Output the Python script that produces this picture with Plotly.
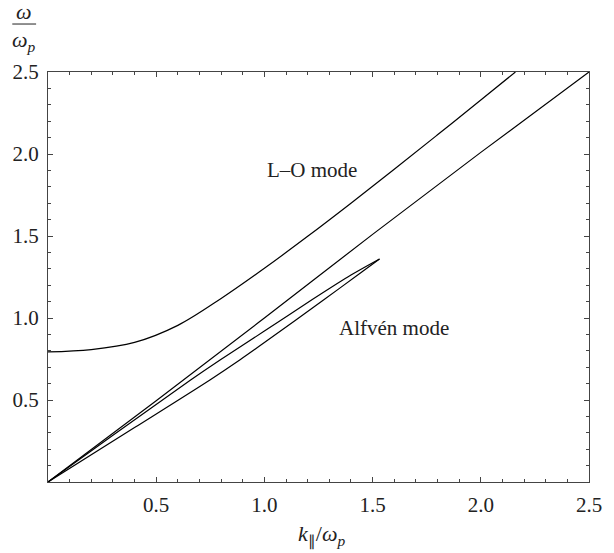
import plotly.graph_objects as go

# L-O mode branch
lo_k = [0, 0.2, 0.4, 0.6, 0.8, 1.0, 1.2, 1.4, 1.6, 1.8, 2.0, 2.16]
lo_w = [0.793, 0.807, 0.851, 0.955, 1.119, 1.303, 1.498, 1.70, 1.907, 2.117, 2.329, 2.5]

# light-line-like branch (omega ~ k)
ll_k = [0, 0.5, 1.0, 1.5, 2.0, 2.5]
ll_w = [0, 0.495, 1.0, 1.51, 2.01, 2.5]

# Alfven loop: upper branch out to the tip, lower branch back to origin
alf_up_k = [0, 0.3, 0.659, 0.795, 1.0, 1.223, 1.4, 1.532]
alf_up_w = [0, 0.285, 0.622, 0.744, 0.92, 1.114, 1.262, 1.36]
alf_lo_k = [1.532, 1.45, 1.273, 1.0, 0.886, 0.75, 0.4, 0]
alf_lo_w = [1.36, 1.28, 1.11, 0.85, 0.744, 0.624, 0.332, 0]

tick_vals = [0.5, 1.0, 1.5, 2.0, 2.5]
tick_text = ["0.5", "1.0", "1.5", "2.0", "2.5"]

FONT = "'Liberation Serif', serif"
TXT = "#222"
line_style = dict(color="black", width=1.2)

fig = go.Figure()
fig.add_trace(go.Scatter(x=lo_k, y=lo_w, mode="lines", line=dict(shape="spline", **line_style)))
fig.add_trace(go.Scatter(x=ll_k, y=ll_w, mode="lines", line=dict(shape="spline", **line_style)))
fig.add_trace(go.Scatter(x=alf_up_k, y=alf_up_w, mode="lines",
                         line=dict(shape="spline", smoothing=0.8, **line_style)))
fig.add_trace(go.Scatter(x=alf_lo_k, y=alf_lo_w, mode="lines",
                         line=dict(shape="spline", smoothing=0.8, **line_style)))

axis_common = dict(
    range=[0, 2.5], tickvals=tick_vals, ticktext=tick_text,
    ticks="inside", ticklen=5, tickwidth=1, tickcolor="#444",
    minor=dict(dtick=0.1, ticks="inside", ticklen=3, tickcolor="#444", tickwidth=1),
    showline=True, linecolor="#444", linewidth=1, mirror="allticks",
    showgrid=False, zeroline=False,
    tickfont=dict(family=FONT, size=21, color=TXT),
)
fig.update_xaxes(**axis_common, ticklabelstandoff=4)
fig.update_yaxes(**axis_common, ticklabelstandoff=4)

fig.add_annotation(x=1.22, y=1.902, text="L\u2013O mode", showarrow=False,
                   xanchor="center", yanchor="middle",
                   font=dict(family=FONT, size=21, color=TXT))
fig.add_annotation(x=1.60, y=0.939, text="Alfvén mode", showarrow=False,
                   xanchor="center", yanchor="middle",
                   font=dict(family=FONT, size=21, color=TXT))

# y-axis label as fraction omega / omega_p
fig.add_annotation(xref="paper", yref="paper", x=-0.044, y=1.147, text="<i>ω</i>",
                   xanchor="center", yanchor="middle",
                   showarrow=False, font=dict(family=FONT, size=22, color=TXT))
fig.add_annotation(xref="paper", yref="paper", x=-0.044, y=1.075, text="<i>ω<sub>p</sub></i>",
                   xanchor="center", yanchor="middle",
                   showarrow=False, font=dict(family=FONT, size=22, color=TXT))
fig.add_shape(type="line", xref="paper", yref="paper", x0=-0.066, x1=-0.022, y0=1.117, y1=1.117,
              line=dict(color=TXT, width=1))

# x-axis label
fig.add_annotation(xref="paper", yref="paper", x=0.505, y=-0.13,
                   xanchor="center", yanchor="middle",
                   text="<i>k</i><sub>∥</sub>/<i>ω<sub>p</sub></i>",
                   showarrow=False, font=dict(family=FONT, size=22, color=TXT))

fig.update_layout(
    width=614, height=553, showlegend=False,
    margin=dict(l=48, r=16, t=72, b=71),
    plot_bgcolor="white", paper_bgcolor="white",
)
fig.write_html("out.html")
